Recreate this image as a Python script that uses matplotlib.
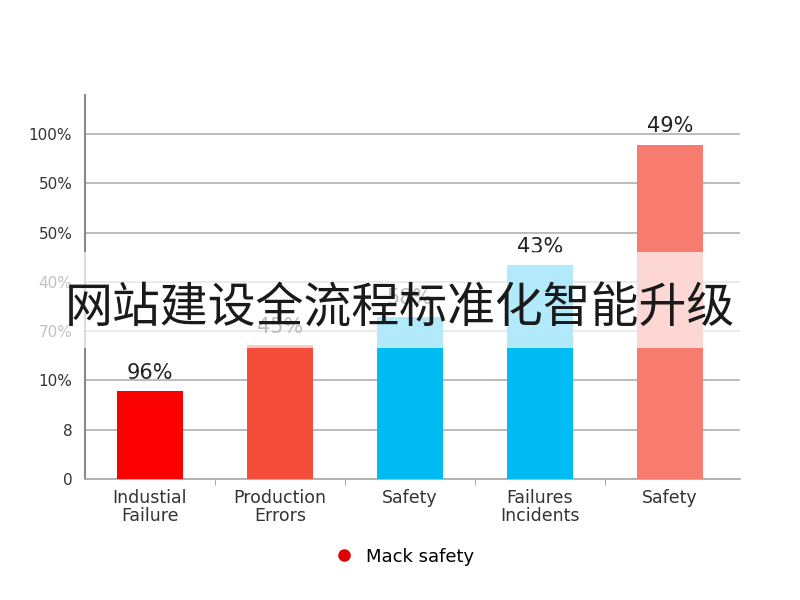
import matplotlib.pyplot as plt
from matplotlib.lines import Line2D
from matplotlib.patches import Rectangle

# values (bar heights in grid units)
categories = ["Industial\nFailure", "Production\nErrors", "Safety", "Failures\nIncidents", "Safety"]
values = [1.78, 2.72, 3.29, 4.34, 6.78]
bar_labels = ["96%", "45%", "58%", "43%", "49%"]
bar_colors = ["#fb0000", "#f54d3a", "#00bcf2", "#00bcf2", "#f87b70"]
ytick_labels = ["0", "8", "10%", "70%", "40%", "50%", "50%", "100%"]
legend_label = "Mack safety"
watermark = "网站建设全流程标准化智能升级"

plt.rcParams['font.family'] = ['DejaVu Sans']

fig = plt.figure(figsize=(8, 6), dpi=100)
ax = fig.add_axes([0.106, 0.2017, 0.819, 0.64])

x = list(range(len(categories)))
ax.bar(x, values, width=0.51, color=bar_colors, zorder=3)

for xi, v, lab in zip(x, values, bar_labels):
    ax.annotate(lab, (xi, v), xytext=(0, 6), textcoords='offset points',
                ha='center', va='bottom', fontsize=15, color='#222222')

ax.set_xlim(-0.5, 4.54)
ax.set_ylim(0, 7.79)
ax.set_yticks(range(len(ytick_labels)))
ax.set_yticklabels(ytick_labels, fontsize=11, color='#333333')
ax.set_xticks(x)
ax.set_xticklabels(categories, fontsize=12.5, color='#333333', linespacing=1.0)
ax.set_xticks([0.5, 1.5, 2.5, 3.5], minor=True)
ax.tick_params(axis='x', which='major', length=0, pad=7)
ax.tick_params(axis='x', which='minor', length=4, color='#999999')
ax.tick_params(axis='y', length=0, pad=9)

ax.grid(axis='y', color='#b0b0b0', linewidth=1.2, zorder=0)
ax.set_axisbelow(True)
for s in ['top', 'right']:
    ax.spines[s].set_visible(False)
ax.spines['left'].set_color('#8a8a8a')
ax.spines['left'].set_linewidth(1.5)
ax.spines['bottom'].set_color('#aaaaaa')
ax.spines['bottom'].set_linewidth(1.2)

handle = Line2D([], [], marker='o', linestyle='none', color='#e00000', markersize=8)
fig.legend([handle], [legend_label], loc='center', bbox_to_anchor=(0.5, 0.072),
           frameon=False, fontsize=13, handletextpad=0.2)

# translucent white band behind the overlay title
fig.patches.append(Rectangle((0, 0.42), 1, 0.16, transform=fig.transFigure,
                             facecolor='white', alpha=0.7, edgecolor='none', zorder=5))
fig.text(0.5, 0.485, watermark, ha='center', va='center', fontsize=34.5,
         color='#1a1a1a', family=['Noto Sans CJK SC', 'DejaVu Sans'], zorder=6)

fig.savefig('out.png', dpi=100)
